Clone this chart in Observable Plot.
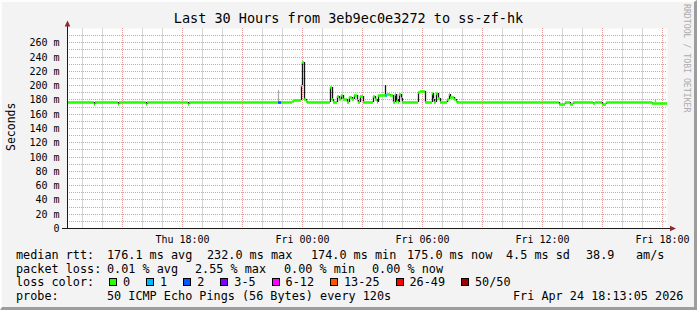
<!DOCTYPE html>
<html><head><meta charset="utf-8">
<script src="https://cdn.jsdelivr.net/npm/d3@7"></script>
<script src="https://cdn.jsdelivr.net/npm/@observablehq/plot@0.6"></script>
<style>
html,body{margin:0;padding:0;background:#f3f3f3;}
#frame{position:relative;width:697px;height:310px;background:#f3f3f3;overflow:hidden;font-family:"DejaVu Sans Mono",monospace;color:#000;}
#frame svg{position:absolute;left:0;top:0;}
#edge{position:absolute;left:0;top:0;width:697px;height:310px;box-sizing:border-box;border-top:2px solid #fdfdfd;border-left:2px solid #fdfdfd;border-right:3px solid #9d9d9d;border-bottom:3px solid #9d9d9d;pointer-events:none;}
.t{position:absolute;white-space:pre;font-size:11.8px;line-height:14px;}
.box{position:absolute;width:8px;height:8px;box-sizing:border-box;border:1px solid #000;}
#title{position:absolute;left:0;width:697px;top:10px;text-align:center;font-size:13.5px;line-height:16px;white-space:pre;}
#ylab{position:absolute;left:4px;top:100px;font-size:11.5px;line-height:14px;writing-mode:vertical-rl;transform:rotate(180deg);height:54px;text-align:center;}
#credit{position:absolute;left:682px;top:4px;font-size:8.2px;line-height:10px;color:#ababab;writing-mode:vertical-rl;white-space:pre;}
</style></head>
<body>
<div id="frame"></div>
<script>
// ---- data ----
const titleText = "Last 30 Hours from 3eb9ec0e3272 to ss-zf-hk";
const yTicks = [0, 20, 40, 60, 80, 100, 120, 140, 160, 180, 200, 220, 240, 260];
const yMinor = [10, 30, 50, 70, 90, 110, 130, 150, 170, 190, 210, 230, 250, 270];
const xTickLabels = ["Thu 18:00", "Fri 00:00", "Fri 06:00", "Fri 12:00", "Fri 18:00"];
const windowStart = "Thu 12:16", windowEnd = "Fri 18:16";

const medianTime = ["Thu 12:16","Thu 13:36","Thu 13:40","Thu 14:48","Thu 14:51","Thu 16:12","Thu 16:15","Thu 18:18","Thu 18:22",
  "Thu 23:30","Thu 23:38","Thu 23:58","Fri 00:02","Fri 00:08","Fri 00:12","Fri 00:15",
  "Fri 01:25","Fri 01:32","Fri 01:35","Fri 01:47","Fri 01:53","Fri 01:57","Fri 02:05","Fri 02:15","Fri 02:22","Fri 02:30",
  "Fri 02:37","Fri 02:45","Fri 02:50","Fri 02:55","Fri 03:03","Fri 03:35","Fri 03:40","Fri 03:47","Fri 03:50","Fri 04:15",
  "Fri 04:25","Fri 04:35","Fri 04:40","Fri 04:43","Fri 04:46","Fri 04:50","Fri 04:52","Fri 04:58","Fri 05:02",
  "Fri 05:50","Fri 05:56","Fri 06:10","Fri 06:30","Fri 06:34","Fri 06:37","Fri 06:42","Fri 06:48","Fri 06:55",
  "Fri 07:15","Fri 07:22","Fri 07:25","Fri 07:37","Fri 07:43","Fri 07:47",
  "Fri 12:53","Fri 13:10","Fri 13:25","Fri 13:33","Fri 14:35","Fri 14:40","Fri 15:00","Fri 15:13","Fri 17:30"];
const medianValue = [176,174,176,174,176,174,176,173,176,
  178,179,200,232,180,178,176,
  197,180,176,185,181,186,180,176,183,180,
  186,179,176,185,176,185,180,176,186,187,
  186,176,187,178,181,176,188,182,176,
  190,192,176,189,181,176,189,182,176,
  181,187,184,181,178,176,
  174,176,174,176,175,176,174,176,175];

const smokeTime = ["Fri 04:10", "Fri 04:44"];
const smokeLow = [186, 176];
const smokeHigh = [200, 187];
const faintTime = ["Thu 22:50", "Fri 17:40"];
const faintLow = [176, 176];
const faintHigh = [193, 180];

const lossTime = ["Thu 22:50", "Fri 04:10"];
const lossClass = [2, 1];

const lossLabels = ["0", "1", "2", "3-5", "6-12", "13-25", "26-49", "50/50"];
const lossColors = ["#26ff00", "#00b8ff", "#0059ff", "#7e00ff", "#ff00ff", "#ff5500", "#ff0000", "#a00000"];

const statsRow1 = ["median rtt:", "176.1 ms avg", "232.0 ms max", "174.0 ms min", "175.0 ms now", "4.5 ms sd", "38.9", "am/s"];
const statsRow2 = ["packet loss:", "0.01 % avg", "2.55 % max", "0.00 % min", "0.00 % now"];
const probeRow = ["probe:", "50 ICMP Echo Pings (56 Bytes) every 120s", "Fri Apr 24 18:13:05 2026"];

// ---- helpers ----
function hours(s) {
  const [d, hm] = s.split(" ");
  const [h, m] = hm.split(":").map(Number);
  return (d === "Fri" ? 24 : 0) + h + m / 60;
}
const xDomain = [hours(windowStart), hours(windowEnd)];
const xTickValues = xTickLabels.map(hours);
const labelOf = new Map(xTickValues.map((v, i) => [v, xTickLabels[i]]));

const med = medianTime.map((t, i) => ({t: hours(t), v: medianValue[i]}));
const segs = med.map((d, i) => ({t0: d.t, t1: i + 1 < med.length ? med[i + 1].t : xDomain[1], v: d.v}));
const trans = med.slice(1).map((d, i) => ({t: d.t, a: med[i].v, b: d.v}));
const smoke = smokeTime.map((t, i) => ({t: hours(t), lo: smokeLow[i], hi: smokeHigh[i]}));
const faint = faintTime.map((t, i) => ({t: hours(t), lo: faintLow[i], hi: faintHigh[i]}));
function medianAt(h) { let v = med[0].v; for (const d of med) if (d.t <= h) v = d.v; return v; }
const step = 7 / 60;
const loss = lossTime.map((t, i) => ({t0: hours(t), t1: hours(t) + step, v: medianAt(hours(t)), c: lossColors[lossClass[i]]}));

// hourly vertical grid, every third hour is a major line
const hours0 = d3.range(Math.ceil(xDomain[0]), Math.floor(xDomain[1]) + 1);
const minorX = hours0.filter(h => h % 3 !== 0);
const majorX = hours0.filter(h => h % 3 === 0);

const green = lossColors[0];

const plot = Plot.plot({
  width: 697, height: 245,
  marginLeft: 67, marginRight: 30, marginTop: 28, marginBottom: 17,
  style: {background: "transparent", fontFamily: "'DejaVu Sans Mono', monospace", fontSize: "10px", color: "#000", overflow: "visible"},
  x: {domain: xDomain, round: true},
  y: {domain: [0, 280], round: true},
  marks: [
    Plot.frame({fill: "#ffffff", stroke: null}),
    Plot.ruleY(yMinor, {stroke: "#b2b2b2", strokeDasharray: "1,1"}),
    Plot.ruleX(minorX, {stroke: "#d6d6d6", strokeWidth: 1}),
    Plot.ruleY(yTicks.slice(1), {stroke: "#e39a9a", strokeDasharray: "1,1"}),
    Plot.ruleX(majorX, {stroke: "#e39a9a", strokeDasharray: "1,1"}),
    Plot.ruleX(faint, {x: "t", y1: "lo", y2: "hi", stroke: "#aaaaaa", strokeWidth: 1.2}),
    Plot.ruleX(smoke, {x: "t", y1: "lo", y2: "hi", stroke: "#151515", strokeWidth: 1.3}),
    Plot.ruleX(trans, {x: "t", y1: "a", y2: "b", stroke: "#151515", strokeWidth: 1.3}),
    Plot.ruleY(segs, {x1: "t0", x2: "t1", y: "v", stroke: green, strokeWidth: 2.6}),
    Plot.ruleY(loss, {x1: "t0", x2: "t1", y: "v", stroke: "c", strokeWidth: 2.6}),
    Plot.ruleX([xDomain[0]], {stroke: "#1a1a1a", insetTop: -3}),
    Plot.ruleY([0], {stroke: "#1a1a1a", insetLeft: -5, insetRight: -4}),
    Plot.axisY({ticks: yTicks, tickFormat: d => d === 0 ? "0" : `${d} m`, tickSize: 0, tickPadding: 8, fontSize: 10, label: null}),
    Plot.axisX({ticks: xTickValues, tickFormat: d => labelOf.get(d), tickSize: 0, tickPadding: 7, fontSize: 10, label: null})
  ]
});

// axis arrows (rrdtool style), positioned through the plot's scales
const sx = plot.scale("x"), sy = plot.scale("y");
const x0 = sx.apply(xDomain[0]), x1 = sx.apply(xDomain[1]);
const yTop = sy.apply(280), yBase = sy.apply(0);
const svg = d3.select(plot);
svg.append("path").attr("d", `M${x0 - 2.3},${yTop - 1.5}L${x0 + 3.3},${yTop - 1.5}L${x0 + 0.5},${yTop - 7.5}Z`).attr("fill", "#8e2a2a");
svg.append("path").attr("d", `M${x1 + 3},${yBase - 2.3}L${x1 + 3},${yBase + 3.3}L${x1 + 9},${yBase + 0.5}Z`).attr("fill", "#8e2a2a");

const frame = document.getElementById("frame");
frame.appendChild(plot);

function addText(s, left, top, cls = "t") {
  const el = document.createElement("div");
  el.className = cls; el.textContent = s;
  el.style.left = left + "px"; el.style.top = top + "px";
  frame.appendChild(el);
  return el;
}
const title = document.createElement("div"); title.id = "title"; title.textContent = titleText; frame.appendChild(title);
const ylab = document.createElement("div"); ylab.id = "ylab"; ylab.textContent = "Seconds"; frame.appendChild(ylab);
const credit = document.createElement("div"); credit.id = "credit"; credit.textContent = "RRDTOOL / TOBI OETIKER"; frame.appendChild(credit);

const row1X = [16, 107, 207, 311, 407, 506, 586, 636];
statsRow1.forEach((s, i) => addText(s, row1X[i], 248));
const row2X = [16, 107, 195, 284, 372];
statsRow2.forEach((s, i) => addText(s, row2X[i], 261.5));
addText("loss color:", 16, 275);
let bx = 109;
lossLabels.forEach((lab, i) => {
  const b = document.createElement("div"); b.className = "box";
  b.style.left = bx + "px"; b.style.top = "278px"; b.style.background = lossColors[i];
  frame.appendChild(b);
  addText(lab, bx + 14, 275);
  bx = bx + 14 + lab.length * 7.1 + 16;
});
const probeX = [16, 107, 513];
probeRow.forEach((s, i) => addText(s, probeX[i], 289));

const edge = document.createElement("div"); edge.id = "edge"; frame.appendChild(edge);
</script>
</body></html>
